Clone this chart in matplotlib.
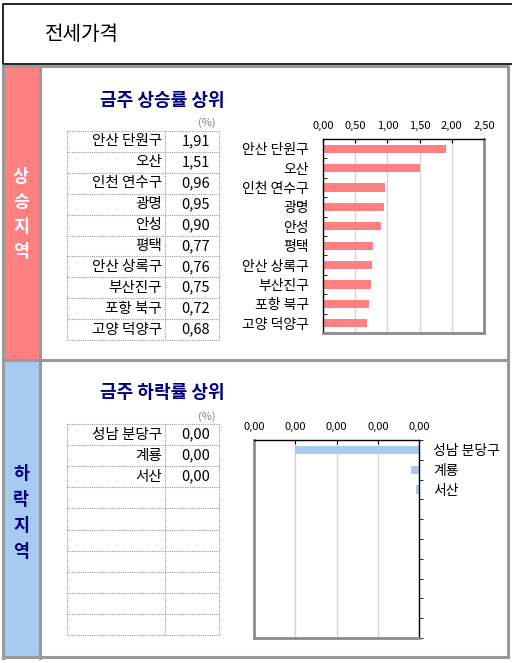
import matplotlib
matplotlib.use("Agg")
import matplotlib.pyplot as plt
from matplotlib.patches import Rectangle
from matplotlib.ticker import FixedLocator, FuncFormatter

plt.rcParams['font.family'] = ['Noto Sans CJK KR', 'DejaVu Sans']

# data
page_title = "전세가격"
up_title = "금주 상승률 상위"
down_title = "금주 하락률 상위"
up_side = "상승지역"
down_side = "하락지역"
up_names = ["안산 단원구", "오산", "인천 연수구", "광명", "안성", "평택",
            "안산 상록구", "부산진구", "포항 북구", "고양 덕양구"]
up_values = [1.91, 1.51, 0.96, 0.95, 0.90, 0.77, 0.76, 0.75, 0.72, 0.68]
down_names = ["성남 분당구", "계룡", "서산"]
down_values = [-0.003, -0.0002, -0.00008]
n_slots = 10
up_ticks = [0, 0.5, 1.0, 1.5, 2.0, 2.5]
down_ticks = [-0.004, -0.003, -0.002, -0.001, 0.0]

PINK = '#FF8080'
BLUE = '#A6CAF0'
NAVY = '#000080'
GRAY = '#999999'
W, H = 512, 663


def comma(v, _=None):
    return f"{abs(v):.2f}".replace('.', ',')


def px_axes(fig, x0, y0, x1, y1):
    return fig.add_axes([x0 / W, 1 - y1 / H, (x1 - x0) / W, (y1 - y0) / H])


fig = plt.figure(figsize=(W / 100, H / 100), dpi=100)
bg = fig.add_axes([0, 0, 1, 1])
bg.set_xlim(0, W)
bg.set_ylim(H, 0)
bg.axis('off')

# header box
bg.plot([W + 5, 3, 3, W + 5], [4, 4, 64, 64], color='black', lw=1.2)
bg.text(45, 35, page_title, fontsize=14.5, va='center', ha='left')

# section side columns
bg.add_patch(Rectangle((3, 66), 37, 294, facecolor=PINK, edgecolor='none'))
bg.add_patch(Rectangle((3, 360), 37, 297, facecolor=BLUE, edgecolor='none'))
lw_frame = 2.2
bg.plot([3, 3], [66, 658], color=GRAY, lw=lw_frame)
bg.plot([40, 40], [66, 658], color=GRAY, lw=lw_frame)
bg.plot([3, 508], [66, 66], color=GRAY, lw=lw_frame)
bg.plot([3, 508], [360, 360], color=GRAY, lw=lw_frame)
bg.plot([3, 508], [657, 657], color=GRAY, lw=lw_frame)
bg.plot([508, 508], [66, 657], color=GRAY, lw=lw_frame)

for i, ch in enumerate(up_side):
    bg.text(21, 177 + i * 25, ch, fontsize=12.5, fontweight='bold', color='white',
            ha='center', va='center')
for i, ch in enumerate(down_side):
    bg.text(21, 474 + i * 26, ch, fontsize=12.5, fontweight='bold', color=NAVY,
            ha='center', va='center')


def draw_table(top, bottom, names, values, title, title_y, unit_y):
    x0, xm, x1 = 67, 165, 219
    rh = (bottom - top) / n_slots
    dot = dict(color=GRAY, lw=0.8, linestyle=(0, (1, 1)))
    for k in range(n_slots + 1):
        y = top + k * rh
        bg.plot([x0, x1], [y, y], **dot)
    for x in (x0, xm, x1):
        bg.plot([x, x], [top, bottom], **dot)
    for k, (nm, v) in enumerate(zip(names, values)):
        yc = top + (k + 0.5) * rh
        bg.text(162, yc, nm, fontsize=10.5, ha='right', va='center')
        bg.text(210, yc, comma(v), fontsize=10.5, ha='right', va='center')
    bg.text(100, title_y, title, fontsize=13, fontweight='bold',
            color=NAVY, ha='left', va='center')
    bg.text(216, unit_y, "(%)", fontsize=8, color='#808080', ha='right', va='center')


draw_table(131, 340, up_names, up_values, up_title, 101, 123)
draw_table(424, 635, down_names, [round(v, 2) for v in down_values],
           down_title, 393, 417)


def style_chart(ax, left_black):
    ax.set_axisbelow(True)
    ax.grid(axis='x', color='#D4D4D4', lw=1)
    ax.grid(axis='y', visible=False)
    for s in ('top', 'left', 'right', 'bottom'):
        ax.spines[s].set_color('#8C8C8C')
        ax.spines[s].set_linewidth(2)
    ax.spines['top'].set_color('black')
    ax.spines['top'].set_linewidth(1)
    side = 'left' if left_black else 'right'
    ax.spines[side].set_color('black')
    ax.spines[side].set_linewidth(1)
    ax.xaxis.tick_top()
    ax.tick_params(axis='x', direction='in', length=3, labelsize=8, pad=6,
                   colors='black')
    ax.set_ylim(n_slots - 0.5, -0.5)
    ax.yaxis.set_minor_locator(FixedLocator([k - 0.5 for k in range(n_slots + 1)]))
    ax.xaxis.set_major_formatter(FuncFormatter(comma))


# top chart
ax1 = px_axes(fig, 323, 139, 484, 333)
ax1.barh(range(len(up_values)), up_values, height=0.43, color=PINK)
ax1.set_xlim(0, 2.5)
ax1.set_xticks(up_ticks)
style_chart(ax1, True)
ax1.set_yticks(range(len(up_names)))
ax1.set_yticklabels(up_names)
ax1.tick_params(axis='y', which='major', length=0, labelsize=10, pad=10)
ax1.tick_params(axis='y', which='minor', direction='in', length=3)

# bottom chart
ax2 = px_axes(fig, 254, 440, 419, 638)
ax2.barh(range(len(down_values)), down_values, height=0.42, color=BLUE)
ax2.set_xlim(down_ticks[0], down_ticks[-1])
ax2.set_xticks(down_ticks)
style_chart(ax2, False)
ax2.yaxis.tick_right()
ax2.set_yticks(range(len(down_names)))
ax2.set_yticklabels(down_names)
ax2.tick_params(axis='y', which='major', length=0, labelsize=10, pad=10)
ax2.tick_params(axis='y', which='minor', direction='out', length=3,
                right=True, left=False)

fig.savefig('out.png', dpi=100)
